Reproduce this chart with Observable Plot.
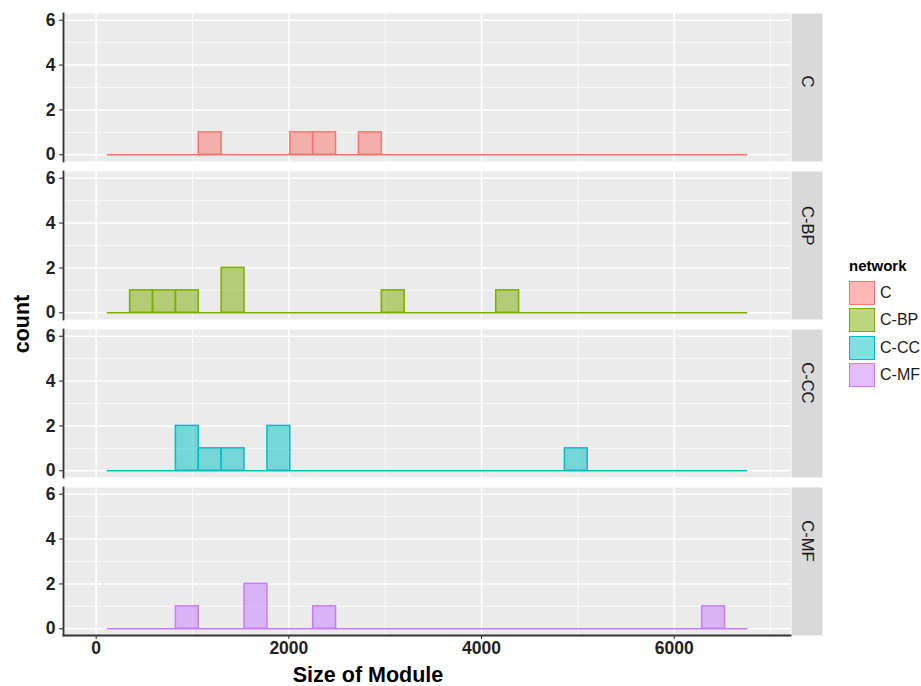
<!DOCTYPE html>
<html><head><meta charset="utf-8">
<script src="https://cdn.jsdelivr.net/npm/d3@7"></script>
<script src="https://cdn.jsdelivr.net/npm/@observablehq/plot@0.6"></script>
<style>
body{margin:0;background:#fff;font-family:"Liberation Sans",Arial,Helvetica,sans-serif;}
#wrap{position:relative;width:921px;height:686px;overflow:hidden;}
.ttl{position:absolute;font-weight:bold;font-size:21.5px;color:#000;white-space:nowrap;}
#ylab{left:22px;top:324px;transform:translate(-50%,-50%) rotate(-90deg);}
#xlab{left:368px;top:675px;transform:translate(-50%,-50%);}
#legend{position:absolute;left:849px;top:257px;font-size:16px;color:#1a1a1a;}
#legend .lt{font-weight:bold;font-size:15px;margin-bottom:5px;color:#000;}
#legend .row{display:flex;align-items:center;height:27.5px;}
#legend .key{width:26px;height:24px;box-sizing:border-box;border:1.6px solid;margin-right:5px;}
</style></head><body><div id="wrap"></div><script>
// categories and colours
const networks = ["C", "C-BP", "C-CC", "C-MF"];
const colors = ["#F8766D", "#7CAE00", "#00BFC4", "#C77CFF"];
// module sizes per network
const sizesC = [1180, 2140, 2360, 2850];
const sizesCBP = [470, 700, 950, 1400, 1460, 3080, 4270];
const sizesCCC = [900, 990, 1150, 1420, 1850, 1930, 4980];
const sizesCMF = [940, 1620, 1700, 2380, 6410];
// bins
const binStart = 115, binEnd = 6765, binWidth = 237.5;
// ticks and labels
const xTicks = [0, 2000, 4000, 6000];
const xMinor = [1000, 3000, 5000, 7000];
const yTicks = [0, 2, 4, 6];
const yMinor = [1, 3, 5];
const xLabel = "Size of Module", yLabel = "count", legendTitle = "network";

const sizeLists = [sizesC, sizesCBP, sizesCCC, sizesCMF];
const data = networks.flatMap((n, i) => sizeLists[i].map(s => ({network: n, size: s})));
const thresholds = d3.range(binStart, binEnd + binWidth / 2, binWidth);

const W = 921, H = 686, ML = 63, MR = 131, MT = 12, MB = 50, stripW = 32;
const font = '"Liberation Sans", Arial, Helvetica, sans-serif';

const plot = Plot.plot({
  width: W, height: H,
  marginLeft: ML, marginRight: MR, marginTop: MT, marginBottom: MB,
  style: {fontFamily: font, background: "white", overflow: "visible"},
  x: {type: "linear", domain: [-339, 7207]},
  y: {type: "linear", domain: [-0.3, 6.3]},
  fy: {domain: networks, axis: null, paddingInner: 0.063, paddingOuter: 0},
  color: {domain: networks, range: colors},
  marks: [
    Plot.frame({fill: "#EBEBEB", stroke: "none"}),
    Plot.frame({fill: "#D9D9D9", stroke: "none", insetLeft: W - ML - MR + 1, insetRight: -stripW}),
    Plot.gridX(xMinor, {stroke: "white", strokeOpacity: 1, strokeWidth: 0.7}),
    Plot.gridY(yMinor, {stroke: "white", strokeOpacity: 1, strokeWidth: 0.7}),
    Plot.gridX(xTicks, {stroke: "white", strokeOpacity: 1, strokeWidth: 1.5}),
    Plot.gridY(yTicks, {stroke: "white", strokeOpacity: 1, strokeWidth: 1.5}),
    // zero-count baseline across all bins
    Plot.ruleY(networks, {
      fy: d => d, y: 0, x1: thresholds[0], x2: thresholds[thresholds.length - 1],
      stroke: d => d, strokeWidth: 1.5
    }),
    Plot.rectY(data, Plot.binX({y: "count"}, {
      x: "size", fy: "network", fill: "network", stroke: "network", thresholds,
      fillOpacity: 0.5, strokeWidth: 1.5, inset: 0
    })),
    Plot.text(networks, {
      fy: d => d, text: d => d, frameAnchor: "right", dx: stripW / 2 + 1, rotate: 90,
      fontSize: 16.5, fill: "#1A1A1A"
    }),
    Plot.axisY(yTicks, {tickSize: 4, tickPadding: 4, fontSize: 17.5, fontWeight: "bold", label: null, color: "#222"}),
    Plot.axisX(xTicks, {tickSize: 4, tickPadding: 2, fontSize: 17.5, fontWeight: "bold", label: null, color: "#222", tickFormat: "d"}),
    Plot.frame({anchor: "left", stroke: "#333", strokeWidth: 1.8}),
    Plot.frame({anchor: "bottom", facetAnchor: "bottom", stroke: "#333", strokeWidth: 1.8})
  ]
});

const wrap = document.getElementById("wrap");
wrap.appendChild(plot);

const yl = document.createElement("div"); yl.className = "ttl"; yl.id = "ylab"; yl.textContent = yLabel; wrap.appendChild(yl);
const xl = document.createElement("div"); xl.className = "ttl"; xl.id = "xlab"; xl.textContent = xLabel; wrap.appendChild(xl);

const lg = document.createElement("div"); lg.id = "legend";
const lt = document.createElement("div"); lt.className = "lt"; lt.textContent = legendTitle; lg.appendChild(lt);
networks.forEach((n, i) => {
  const row = document.createElement("div"); row.className = "row";
  const k = document.createElement("div"); k.className = "key";
  const c = d3.color(colors[i]);
  k.style.borderColor = colors[i];
  k.style.background = `rgba(${c.r},${c.g},${c.b},0.5)`;
  const t = document.createElement("span"); t.textContent = n;
  row.appendChild(k); row.appendChild(t); lg.appendChild(row);
});
wrap.appendChild(lg);
</script></body></html>
